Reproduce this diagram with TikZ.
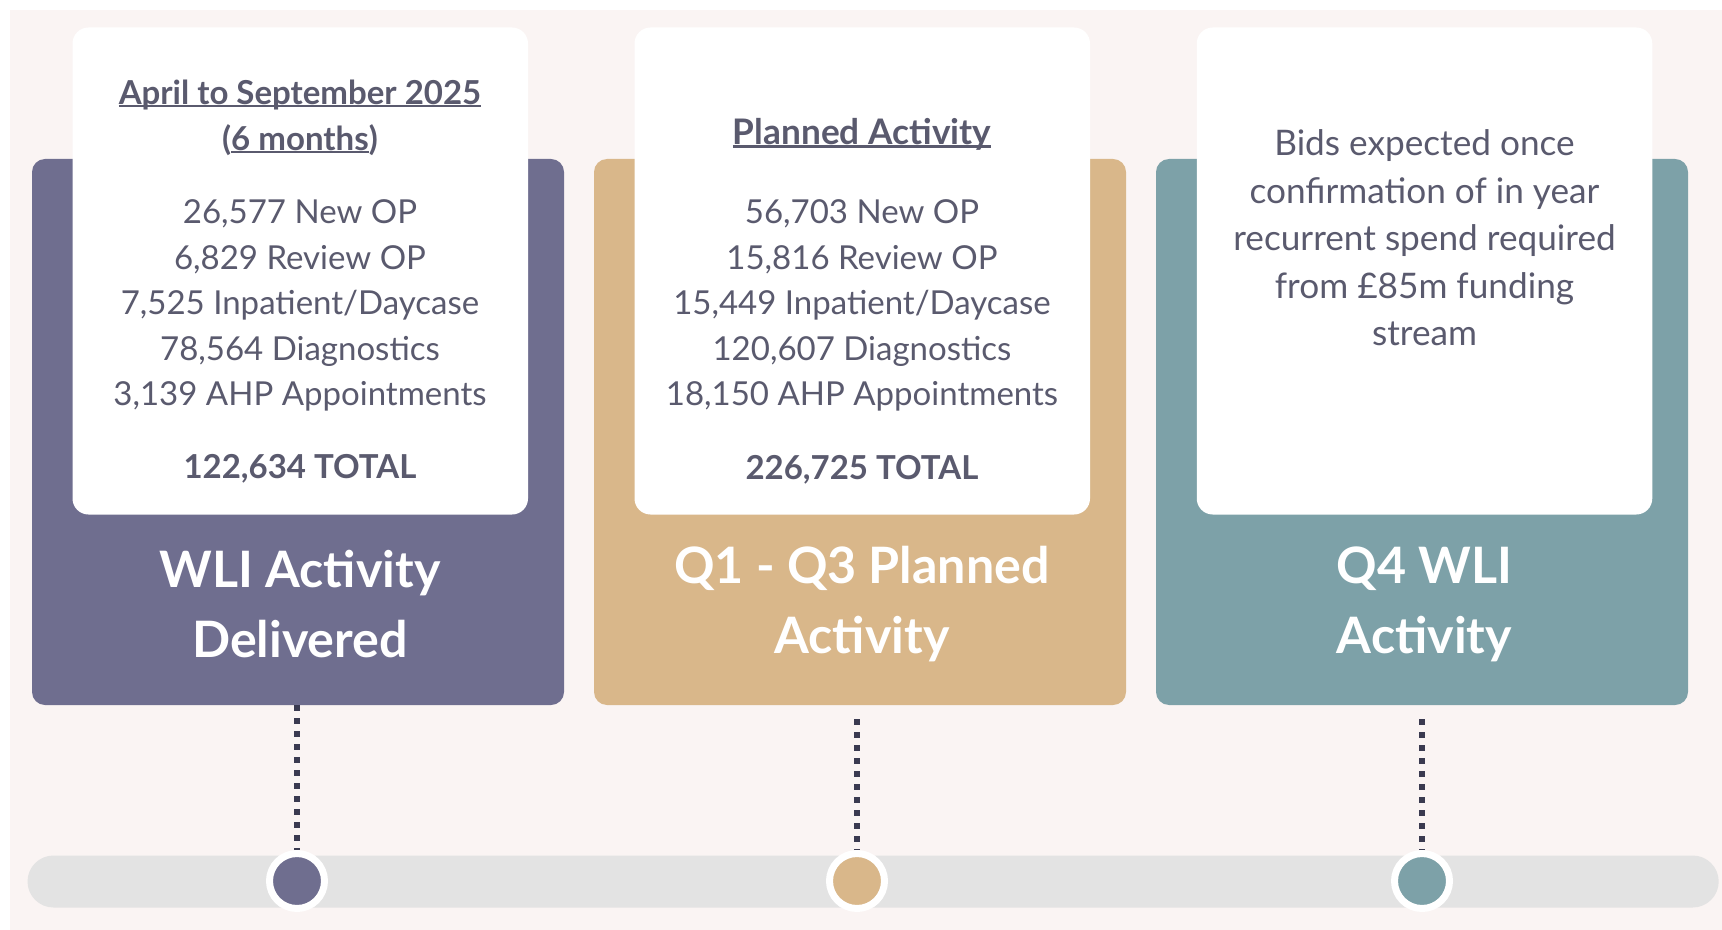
\documentclass[tikz,border=0pt]{standalone}
\usepackage{fontspec}
\setmainfont{Lato}
\definecolor{bgpink}{HTML}{FAF4F3}
\definecolor{cpurple}{HTML}{6F6E8F}
\definecolor{ctan}{HTML}{D9B78A}
\definecolor{cteal}{HTML}{7DA1A8}
\definecolor{cbar}{HTML}{E3E3E3}
\definecolor{ctext}{HTML}{5A5A6E}
\definecolor{cdot}{HTML}{3A3A50}
\newcommand\myul[1]{\setbox0\hbox{#1}\rlap{\rule[-0.1em]{\wd0}{0.065em}}\box0}
\tikzset{
  panel/.style={draw=none, rounded corners=6.5pt, minimum width=266pt, minimum height=273pt, inner sep=0pt},
  card/.style={fill=white, draw=none, rounded corners=8pt, minimum width=227.75pt, minimum height=243.5pt, inner sep=0pt},
  body/.style={text=ctext, align=center, font=\fontsize{16.5}{22.8}\selectfont, inner sep=0pt},
  head/.style={body, font=\fontsize{16.5}{23}\selectfont\bfseries},
  title/.style={text=white, align=center, font=\fontsize{25.1}{35}\selectfont\bfseries, inner sep=0pt},
  dotline/.style={draw=cdot, line width=3pt, dash pattern=on 3pt off 3.5pt},
  dotnode/.style={circle, draw=white, line width=3.5pt, minimum size=27.5pt, inner sep=0pt},
}
\begin{document}
\begin{tikzpicture}[x=0.5pt,y=-0.5pt]
\useasboundingbox (0,0) rectangle (1722,930);
\fill[bgpink] (10,10) rectangle (1722,930);
% panels
\node[panel, fill=cpurple] (p1) at (298,432) {};
\node[panel, fill=ctan] (p2) at (860,432) {};
\node[panel, fill=cteal] (p3) at (1422,432) {};
% cards
\node[card] (k1) at (300.25,271) {};
\node[card] (k2) at (862.25,271) {};
\node[card] (k3) at (1424.5,271) {};
% card 1 text
\node[head] (h1) at (300,117.5) {\myul{April to September 2025}\\(\myul{6 months})};
\node[body] (l1) at (300,305.5) {26,577 New OP\\6,829 Review OP\\7,525 Inpatient/Daycase\\78,564 Diagnostics\\3,139 AHP Appointments};
\node[head] (t1) at (300,469) {122,634 TOTAL};
% card 2 text
\node[head, font=\fontsize{17.6}{23}\selectfont\bfseries] (h2) at (862,134) {\myul{Planned Activity}};
\node[body] (l2) at (862,305.5) {56,703 New OP\\15,816 Review OP\\15,449 Inpatient/Daycase\\120,607 Diagnostics\\18,150 AHP Appointments};
\node[head] (t2) at (862,470) {226,725 TOTAL};
% card 3 text
\node[body, font=\fontsize{17.6}{23.75}\selectfont] (l3) at (1424.5,238) {Bids expected once\\confirmation of in year\\recurrent spend required\\from £85m funding\\stream};
% titles
\node[title] (ti1) at (300,604.5) {WLI Activity\\Delivered};
\node[title] (ti2) at (862,604.5) {Q1 - Q3 Planned\\Activity};
\node[title] (ti3) at (1424.5,604.5) {Q4 WLI\\Activity};
% timeline
\node[fill=cbar, rounded corners=13pt, minimum width=845.6pt, minimum height=26pt, inner sep=0pt] (bar) at (873.1,881.5) {};
\node[dotnode, fill=cpurple] (c1) at (297,881) {};
\node[dotnode, fill=ctan] (c2) at (857,881) {};
\node[dotnode, fill=cteal] (c3) at (1422,881) {};
% dotted connectors
\draw[dotline] (c1 |- p1.south) -- (c1.north);
\draw[dotline] ([yshift=-7pt]c2 |- p2.south) -- (c2.north);
\draw[dotline] ([yshift=-7pt]c3 |- p3.south) -- (c3.north);
\end{tikzpicture}
\end{document}
